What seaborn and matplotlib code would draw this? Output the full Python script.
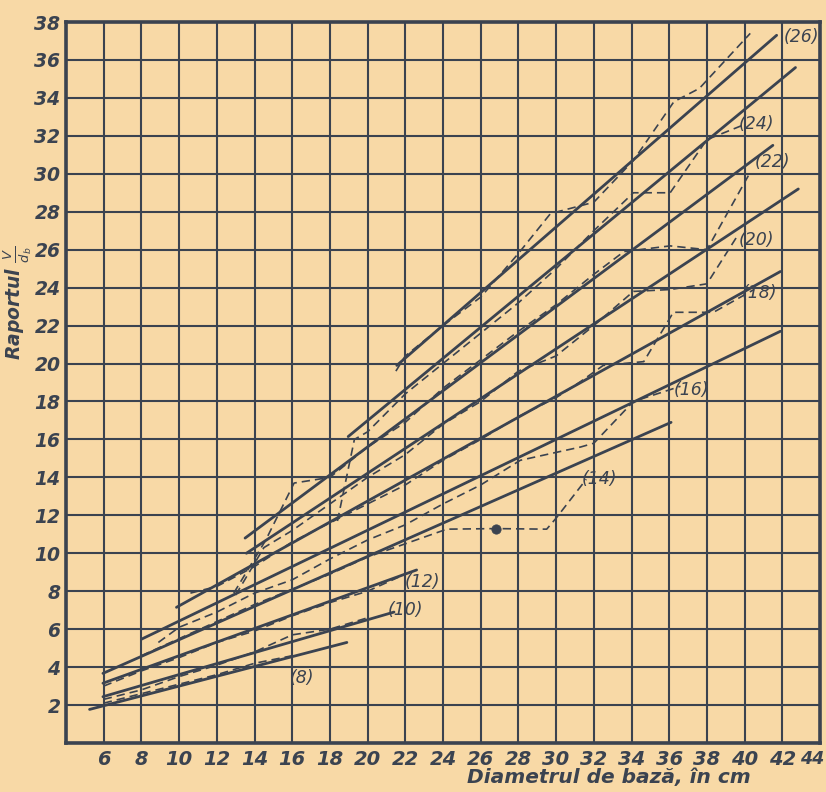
import matplotlib
matplotlib.use("Agg")
import matplotlib.pyplot as plt
import matplotlib.transforms as mtransforms
import numpy as np
import pandas as pd
import seaborn as sns

# height classes (m)
CLASSES = [8, 10, 12, 14, 16, 18, 20, 22, 24, 26]

# fitted (solid) lines: start and end of each class
FIT_X_START = [5.25, 5.96, 5.96, 5.96, 8.0, 9.86, 13.57, 13.5, 18.97, 21.55]
FIT_Y_START = [1.77, 2.44, 3.15, 3.67, 5.47, 7.15, 10.0, 10.8, 16.15, 19.9]
FIT_X_END = [18.9, 21.4, 22.6, 36.1, 41.9, 41.9, 42.85, 41.5, 42.7, 41.7]
FIT_Y_END = [5.3, 6.9, 9.12, 16.9, 21.7, 24.85, 29.2, 31.5, 35.6, 37.3]

# observed (dashed) values per class
OBS_8_X = [6, 8, 10, 12, 14, 16]
OBS_8_Y = [2.1, 2.6, 3.1, 3.6, 4.2, 4.6]
OBS_10_X = [6, 8, 10, 12, 14, 16, 18, 20]
OBS_10_Y = [2.3, 2.8, 3.5, 4.1, 4.8, 5.7, 6.0, 6.6]
OBS_12_X = [6, 8, 10, 12, 14, 16, 18, 20, 22]
OBS_12_Y = [3.0, 3.8, 4.5, 5.3, 5.9, 6.7, 7.4, 8.0, 8.9]
OBS_14_X = [8, 10, 12, 14, 16, 18, 20, 22, 24.2, 26.8, 29.5, 30.0, 31.6]
OBS_14_Y = [4.6, 5.5, 6.4, 7.3, 8.1, 8.9, 9.8, 10.5, 11.27, 11.3, 11.27, 11.85, 13.9]
OBS_16_X = [8.9, 10, 12, 14, 16, 18, 20, 22, 24, 26, 28.1, 31.3, 32.0, 34.1, 36.6]
OBS_16_Y = [5.3, 6.1, 6.9, 7.9, 8.6, 9.7, 10.7, 11.5, 12.6, 13.6, 14.9, 15.6, 15.8, 18.0, 18.8]
OBS_18_X = [10.6, 12, 14, 16, 18, 20, 22, 24, 26, 28, 30, 31.3, 32.5, 34.65, 36.1, 36.2, 38.35, 40.5]
OBS_18_Y = [7.9, 8.25, 9.3, 10.6, 11.6, 12.6, 13.6, 14.9, 16.0, 17.2, 18.2, 19.05, 19.9, 20.1, 22.5, 22.7, 22.7, 23.9]
OBS_20_X = [13.0, 14.5, 16, 18, 20, 22, 24, 26, 28, 30, 32, 34.1, 36.05, 38.0, 39.6]
OBS_20_Y = [7.8, 10.3, 11.2, 12.6, 14.0, 15.2, 16.8, 18.0, 19.6, 20.4, 22.0, 23.8, 23.9, 24.2, 26.7]
OBS_22_X = [12.9, 14.6, 16.1, 18, 20, 22, 24, 26, 28, 30, 32, 33.6, 36.05, 38.0, 40.2]
OBS_22_Y = [7.9, 10.7, 13.7, 14.0, 15.6, 16.9, 18.7, 20.2, 21.7, 23.1, 24.7, 25.9, 26.2, 26.0, 29.9]
OBS_24_X = [18.4, 19.3, 20, 22, 24, 26, 28, 30, 32, 34.1, 36.05, 38.0, 40.0]
OBS_24_Y = [11.7, 16.0, 16.4, 18.4, 20.0, 21.6, 23.2, 25.0, 27.0, 29.0, 29.0, 31.8, 32.6]
OBS_26_X = [21.5, 22, 24, 26, 28, 29.7, 32.0, 34.1, 36.25, 37.6, 40.3]
OBS_26_Y = [19.6, 20.4, 22.0, 23.5, 25.8, 27.9, 28.5, 30.7, 33.8, 34.5, 37.4]

# single point marked on class 14
DOT_X = [26.8]
DOT_Y = [11.3]

X_TICKS = list(range(4, 45, 2))
Y_TICKS = list(range(0, 39, 2))

INK = "#3b4350"
PAPER = "#f8d9a6"


def main():
    sns.set_theme(style="white", rc={
        "axes.facecolor": PAPER,
        "figure.facecolor": PAPER,
        "axes.edgecolor": INK,
    })
    plt.rcParams["font.family"] = ["DejaVu Sans"]
    plt.rcParams["mathtext.fontset"] = "dejavusans"

    fit = pd.DataFrame({
        "cls": CLASSES * 2,
        "d": FIT_X_START + FIT_X_END,
        "r": FIT_Y_START + FIT_Y_END,
    })

    obs_x = [OBS_8_X, OBS_10_X, OBS_12_X, OBS_14_X, OBS_16_X,
             OBS_18_X, OBS_20_X, OBS_22_X, OBS_24_X, OBS_26_X]
    obs_y = [OBS_8_Y, OBS_10_Y, OBS_12_Y, OBS_14_Y, OBS_16_Y,
             OBS_18_Y, OBS_20_Y, OBS_22_Y, OBS_24_Y, OBS_26_Y]
    obs = pd.concat([
        pd.DataFrame({"cls": c, "step": range(len(xs)), "d": xs, "r": ys})
        for c, xs, ys in zip(CLASSES, obs_x, obs_y)
    ], ignore_index=True)

    fig = plt.figure(figsize=(8.26, 7.92), dpi=100)
    ax = fig.add_axes([66 / 826, 1 - 743 / 792, 754 / 826, 721 / 792])

    sns.lineplot(data=obs, x="d", y="r", units="cls", estimator=None,
                 sort=False, color=INK, lw=1.2, linestyle=(0, (5, 3)),
                 ax=ax, legend=False, zorder=3)
    sns.lineplot(data=fit, x="d", y="r", units="cls", estimator=None,
                 color=INK, lw=2.0, ax=ax, legend=False, zorder=4)
    sns.scatterplot(x=DOT_X, y=DOT_Y, color=INK, s=45, marker="o",
                    ax=ax, legend=False, zorder=5, edgecolor=INK)

    # class labels at the line ends
    label_pos = {
        8: (16.5, 3.4), 10: (22.0, 7.0), 12: (22.9, 8.5), 14: (32.3, 13.9),
        16: (37.2, 18.6), 18: (40.8, 23.7), 20: (40.6, 26.5),
        22: (41.5, 30.6), 24: (40.6, 32.6), 26: (43.0, 37.2),
    }
    for c in CLASSES:
        x, y = label_pos[c]
        ax.text(x, y, f"({c})", fontsize=12.5, style="italic",
                color=INK, ha="center", va="center", zorder=6)

    ax.set_xlim(4, 44)
    ax.set_ylim(0, 38)
    ax.set_xticks(X_TICKS)
    ax.set_yticks(Y_TICKS)
    ax.set_xticklabels(["" if t == 4 else str(t) for t in X_TICKS])
    ax.set_yticklabels(["" if t == 0 else str(t) for t in Y_TICKS])
    ax.grid(True, color=INK, lw=1.5)
    ax.set_axisbelow(True)
    ax.tick_params(axis="x", length=0, pad=5, labelsize=14, labelcolor=INK)
    ax.tick_params(axis="y", length=0, pad=4, labelsize=13.5, labelcolor=INK)
    for lab in ax.get_xticklabels() + ax.get_yticklabels():
        lab.set_style("italic")
        lab.set_fontweight("semibold")
    # last x label sits at the page edge: smaller and nudged left
    last = ax.get_xticklabels()[-1]
    last.set_fontsize(12.5)
    last.set_transform(last.get_transform() + mtransforms.ScaledTranslation(
        -6 / 72, 0, fig.dpi_scale_trans))
    for sp in ax.spines.values():
        sp.set_linewidth(2.6)
        sp.set_color(INK)

    ax.set_xlabel("Diametrul de bază, în cm", fontsize=14.5, style="italic",
                  color=INK, fontweight="semibold")
    ax.xaxis.set_label_coords(0.72, -0.035)
    ax.set_ylabel(r"Raportul $\frac{V}{d_b}$", fontsize=13.5, style="italic",
                  color=INK, fontweight="semibold")
    ax.yaxis.set_label_coords(-0.042, 0.61)

    fig.savefig("out.png", dpi=100, facecolor=PAPER)
    plt.close(fig)


if __name__ == "__main__":
    main()
